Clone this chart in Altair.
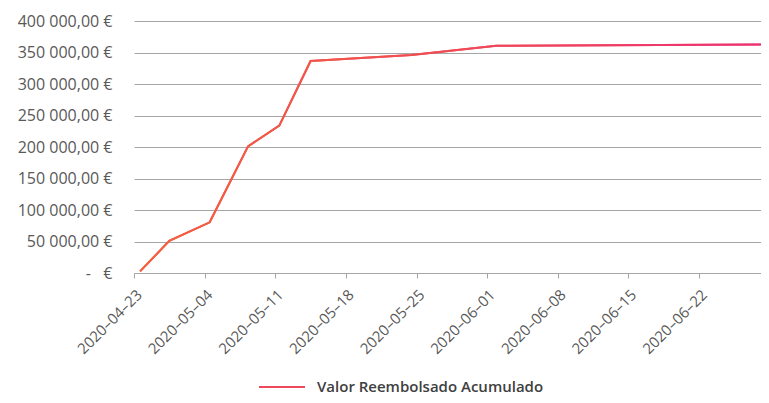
import altair as alt
import pandas as pd

series_name = "Valor Reembolsado Acumulado"

# x position = days after the first axis tick
day_offsets = [0.6, 3.5, 7.5, 11.3, 14.4, 17.5, 27.5, 35.9, 63.0]
values = [2500, 51000, 80500, 201000, 234000, 336500, 346000, 360800, 362900]

x_tick_days = [0, 7, 14, 21, 28, 35, 42, 49, 56, 63]
x_tick_labels = ["2020–04–23", "2020–05–04", "2020–05–11", "2020–05–18", "2020–05–25",
                 "2020–06–01", "2020–06–08", "2020–06–15", "2020–06–22", "2020–06–29"]

y_tick_values = [0, 50000, 100000, 150000, 200000, 250000, 300000, 350000, 400000]
y_tick_labels = ["-\u00a0\u00a0\u00a0€", "50 000,00 €", "100 000,00 €", "150 000,00 €",
                 "200 000,00 €", "250 000,00 €", "300 000,00 €", "350 000,00 €", "400 000,00 €"]

df = pd.DataFrame({"day": day_offsets, "value": values, "series": [series_name] * len(values)})


def lookup_expr(vals, labels):
    lab = "[" + ",".join("'" + s + "'" for s in labels) + "]"
    vv = "[" + ",".join(str(v) for v in vals) + "]"
    return f"{lab}[indexof({vv}, datum.value)]"


FONT = "Open Sans"
GRID = "#A6A6A6"

x_enc = alt.X(
    "day:Q",
    scale=alt.Scale(domain=[0, 62.14], nice=False, zero=False),
    axis=alt.Axis(values=x_tick_days, labelExpr=lookup_expr(x_tick_days, x_tick_labels),
                  labelAngle=-45, grid=False, ticks=True, tickSize=5, tickColor=GRID,
                  domainColor=GRID, labelPadding=9, labelFontSize=15, labelColor="#595959",
                  labelOverlap=False, labelFlush=False, title=None),
)
y_enc = alt.Y(
    "value:Q",
    scale=alt.Scale(domain=[0, 400000], nice=False),
    axis=alt.Axis(values=y_tick_values, labelExpr=lookup_expr(y_tick_values, y_tick_labels),
                  grid=True, gridColor=GRID, domain=False, ticks=False, tickSize=0,
                  labelPadding=22, labelFontSize=16, labelColor="#595959",
                  labelFlush=False, labelOverlap=False, title=None),
)

base = alt.Chart(df).mark_line(strokeWidth=2, clip=True).encode(
    x=x_enc,
    y=y_enc,
    color=alt.Color("series:N", scale=alt.Scale(range=["#EF4A5C"]),
                    legend=alt.Legend(orient="none", legendX=124, legendY=342, title=None,
                                      symbolType="stroke", symbolSize=2116, symbolStrokeWidth=2,
                                      labelFontSize=15, labelFontWeight=600, labelColor="#404040",
                                      labelFont=FONT, labelOffset=11, labelLimit=0)),
)

grad = alt.Chart(df).mark_line(
    strokeWidth=2, clip=True,
    color=alt.Gradient(gradient="linear",
                       stops=[alt.GradientStop(color="#F4623A", offset=0),
                              alt.GradientStop(color="#F0504E", offset=0.4),
                              alt.GradientStop(color="#EC2F78", offset=1)],
                       x1=0, x2=1, y1=0, y2=0),
).encode(x=x_enc, y=y_enc)

chart = alt.layer(base, grad).properties(
    width=627, height=252,
    autosize=alt.AutoSizeParams(type="none"),
    padding={"left": 126, "top": 13, "right": 0, "bottom": 122},
).configure_view(stroke=None).configure_axis(labelFont=FONT)

chart.save("out.html", embed_options={"renderer": "svg", "actions": False})
